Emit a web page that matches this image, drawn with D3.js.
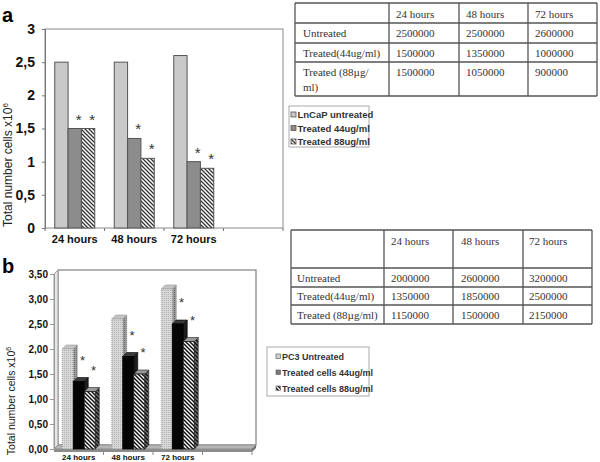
<!DOCTYPE html>
<html>
<head>
<meta charset="utf-8">
<script src="https://cdn.jsdelivr.net/npm/d3@7"></script>
<style>
html,body{margin:0;padding:0;background:#fff;}
svg{display:block;}
</style>
</head>
<body>
<svg id="chart" width="600" height="462"></svg>
<script>
// ---------- DATA ----------
const categories = ["24 hours", "48 hours", "72 hours"];
const lncapUntreated = [2.5, 2.5, 2.6];
const lncapTreated44 = [1.5, 1.35, 1.0];
const lncapTreated88 = [1.5, 1.05, 0.9];
const pc3Untreated = [2.0, 2.6, 3.2];
const pc3Treated44 = [1.35, 1.85, 2.5];
const pc3Treated88 = [1.15, 1.5, 2.15];
const yTicksA = [0, 0.5, 1, 1.5, 2, 2.5, 3];
const yTicksB = [0, 0.5, 1, 1.5, 2, 2.5, 3, 3.5];
const legendA = ["LnCaP untreated", "Treated 44ug/ml", "Treated 88ug/ml"];
const legendB = ["PC3 Untreated", "Treated cells 44ug/ml", "Treated cells 88ug/ml"];
const tableRowsA = [["Untreated"], ["Treated(44ug/ml)"], ["Treated (88\u00b5g/", "ml)"]];
const tableRowsB = [["Untreated"], ["Treated(44ug/ml)"], ["Treated (88\u00b5g/ml)"]];
const yTitle = "Total number cells x10";

// ---------- SETUP ----------
const svg = d3.select("#chart");
const defs = svg.append("defs");
function hatch(id, bg, fg, sw) {
  const p = defs.append("pattern").attr("id", id).attr("patternUnits", "userSpaceOnUse")
    .attr("width", 4).attr("height", 4);
  p.append("rect").attr("width", 4).attr("height", 4).attr("fill", bg);
  p.append("path").attr("d", "M-1,-1 L5,5 M3,-1 L5,1 M-1,3 L1,5")
    .attr("stroke", fg).attr("stroke-width", sw);
}
hatch("hatchA", "#fff", "#333", 1.3);
hatch("hatchB", "#fff", "#111", 1.5);
hatch("hatchBside", "#777", "#111", 1.5);
const dots = defs.append("pattern").attr("id", "dotsB").attr("patternUnits", "userSpaceOnUse")
  .attr("width", 2).attr("height", 2);
dots.append("rect").attr("width", 2).attr("height", 2).attr("fill", "#d6d6d6");
dots.append("rect").attr("width", 1).attr("height", 1).attr("fill", "#b8b8b8");
const dotsSide = defs.append("pattern").attr("id", "dotsBside").attr("patternUnits", "userSpaceOnUse")
  .attr("width", 2).attr("height", 2);
dotsSide.append("rect").attr("width", 2).attr("height", 2).attr("fill", "#9a9a9a");
dotsSide.append("rect").attr("width", 1).attr("height", 1).attr("fill", "#6a6a6a");

const xDomain = [...categories, ""];
const fmtA = d => String(d).replace(".", ",");
const fmtB = d => d3.format(".2f")(d).replace(".", ",");

// ---------- PANEL A ----------
const gA = svg.append("g");
gA.append("text").attr("x", 2).attr("y", 22).attr("font-family", "Arial, Liberation Sans")
  .attr("font-weight", "bold").attr("font-size", 20).text("a");

const xa = d3.scaleBand().domain(xDomain).range([45, 283]);
const ya = d3.scaleLinear().domain([0, 3]).range([228, 29]);
const seriesA = [lncapUntreated, lncapTreated44, lncapTreated88];
const fillsA = ["#c9c9c9", "#8c8c8c", "url(#hatchA)"];
const xsa = d3.scaleBand().domain([0, 1, 2]).range([0, xa.bandwidth()]).paddingOuter(0.73);

gA.append("rect").attr("x", xa.range()[0]).attr("y", ya(3)).attr("width", xa.range()[1] - xa.range()[0])
  .attr("height", ya(0) - ya(3)).attr("fill", "none").attr("stroke", "#8a8a8a").attr("stroke-width", 1);

const axA = gA.append("g").attr("transform", `translate(${xa.range()[0]},0)`)
  .call(d3.axisLeft(ya).tickValues(yTicksA).tickFormat(fmtA).tickSize(3).tickPadding(7));
axA.select(".domain").attr("stroke", "#777");
axA.selectAll(".tick line").attr("stroke", "#777");
axA.selectAll("text").attr("font-family", "Arial, Liberation Sans").attr("font-weight", "bold")
  .attr("font-size", 14).attr("fill", "#111");

// x ticks at band boundaries
gA.selectAll(".xt").data(xDomain.map(d => xa(d)).concat([xa.range()[1]])).enter().append("line")
  .attr("x1", d => d).attr("x2", d => d).attr("y1", ya(0)).attr("y2", ya(0) + 3).attr("stroke", "#777");
gA.selectAll(".xl").data(categories).enter().append("text")
  .attr("x", d => xa(d) + xa.bandwidth() / 2).attr("y", 243).attr("text-anchor", "middle")
  .attr("font-family", "Arial, Liberation Sans").attr("font-weight", "bold").attr("font-size", 11)
  .attr("fill", "#111").text(d => d);

seriesA.forEach((s, si) => {
  gA.selectAll(".ba" + si).data(s).enter().append("rect")
    .attr("x", (d, i) => xa(categories[i]) + xsa(si)).attr("y", d => ya(d))
    .attr("width", xsa.bandwidth()).attr("height", d => ya(0) - ya(d))
    .attr("fill", fillsA[si]).attr("stroke", "#555").attr("stroke-width", 1);
  if (si > 0) {
    gA.selectAll(".sa" + si).data(s).enter().append("text")
      .attr("x", (d, i) => xa(categories[i]) + xsa(si) + xsa.bandwidth() * 0.8)
      .attr("y", d => ya(d) - 4).attr("text-anchor", "middle")
      .attr("font-family", "Arial, Liberation Sans").attr("font-size", 15).attr("fill", "#333").text("*");
  }
});

// y title A
const tA = gA.append("text").attr("transform", "translate(12,165) rotate(-90)").attr("text-anchor", "middle")
  .attr("font-family", "Arial, Liberation Sans").attr("font-size", 12).attr("fill", "#222");
tA.append("tspan").text(yTitle);
tA.append("tspan").attr("dy", -4).attr("font-size", 8).text("6");

// legend A
const lgA = gA.append("g");
lgA.append("rect").attr("x", 289).attr("y", 106).attr("width", 80).attr("height", 41)
  .attr("fill", "#fff").attr("stroke", "#aaa");
legendA.forEach((t, i) => {
  lgA.append("rect").attr("x", 291).attr("y", 112 + i * 13.5).attr("width", 5).attr("height", 5)
    .attr("fill", fillsA[i]).attr("stroke", "#555").attr("stroke-width", 0.8);
  lgA.append("text").attr("x", 297.5).attr("y", 118 + i * 13.5).attr("font-family", "Arial, Liberation Sans")
    .attr("font-weight", "bold").attr("font-size", 9.5).attr("fill", "#333").text(t);
});

// table A
function drawTable(g, cols, rows, header, rowLabels, vals, opt) {
  const L = cols[0], R = cols[cols.length - 1], T = rows[0], B = rows[rows.length - 1];
  rows.forEach(y => g.append("line").attr("x1", L).attr("x2", R).attr("y1", y).attr("y2", y)
    .attr("stroke", "#555").attr("stroke-width", 1.3));
  cols.forEach(x => g.append("line").attr("x1", x).attr("x2", x).attr("y1", T).attr("y2", B)
    .attr("stroke", "#555").attr("stroke-width", 1.3));
  const txt = (x, y, s) => g.append("text").attr("x", x).attr("y", y)
    .attr("font-family", "Liberation Serif, Times New Roman, serif").attr("font-size", 11)
    .attr("fill", "#333").text(s);
  header.forEach((h, j) => txt(cols[j + 1] + opt.pad[j], opt.headY, h));
  rowLabels.forEach((lab, i) => {
    lab.forEach((line, k) => txt(cols[0] + opt.labPad, opt.rowY[i] + k * 15, line));
    vals.forEach((v, j) => txt(cols[j + 1] + opt.pad[j], opt.rowY[i], String(Math.round(v[i] * 1e6))));
  });
}
const seriesAT = categories.map((c, j) => seriesA.map(s => s[j]));
drawTable(gA, [295, 389, 459, 528, 597], [3, 23, 43, 62, 96], categories, tableRowsA, seriesAT,
  {pad: [7, 7, 7], headY: 18, labPad: 8, rowY: [37, 57, 76]});

// ---------- PANEL B ----------
const gB = svg.append("g");
gB.append("text").attr("x", 2).attr("y", 273).attr("font-family", "Arial, Liberation Sans")
  .attr("font-weight", "bold").attr("font-size", 20).text("b");

const xb = d3.scaleBand().domain(xDomain).range([54, 252]);
const yb = d3.scaleLinear().domain([0, 3.5]).range([449, 274]);
const dx = 4, dy = 4;
const [bx0, bx1] = xb.range();
const by0 = yb(0), byT = yb(3.5);

// back wall and left wall
gB.append("rect").attr("x", bx0 + dx).attr("y", byT - dy).attr("width", bx1 - bx0).attr("height", by0 - byT)
  .attr("fill", "#fff").attr("stroke", "#9a9a9a").attr("stroke-width", 1.5);
gB.append("polygon").attr("points", `${bx0},${byT} ${bx0 + dx},${byT - dy} ${bx0 + dx},${by0 - dy} ${bx0},${by0}`)
  .attr("fill", "#e6e6e6").attr("stroke", "#9a9a9a").attr("stroke-width", 1);
// floor
gB.append("polygon").attr("points", `${bx0},${by0} ${bx1},${by0} ${bx1 + dx},${by0 - dy} ${bx0 + dx},${by0 - dy}`)
  .attr("fill", "#b5b5b5").attr("stroke", "#888").attr("stroke-width", 0.8);
gB.append("rect").attr("x", bx0).attr("y", by0).attr("width", bx1 - bx0).attr("height", 3)
  .attr("fill", "#8d8d8d");
gB.append("polygon").attr("points", `${bx1},${by0} ${bx1 + dx},${by0 - dy} ${bx1 + dx},${by0 - dy + 3} ${bx1},${by0 + 3}`)
  .attr("fill", "#6f6f6f");

const axB = gB.append("g").attr("transform", `translate(${bx0},0)`)
  .call(d3.axisLeft(yb).tickValues(yTicksB).tickFormat(fmtB).tickSize(4).tickPadding(2));
axB.select(".domain").attr("stroke", "#999");
axB.selectAll(".tick line").attr("stroke", "#999");
axB.selectAll("text").attr("font-family", "Arial, Liberation Sans").attr("font-weight", "bold")
  .attr("font-size", 10).attr("fill", "#111");

gB.selectAll(".xtb").data(xDomain.slice(1).map(d => xb(d)).concat([xb.range()[1]])).enter().append("line")
  .attr("x1", d => d).attr("x2", d => d).attr("y1", by0 + 3).attr("y2", by0 + 6).attr("stroke", "#888");
gB.selectAll(".xlb").data(categories).enter().append("text")
  .attr("x", d => xb(d) + xb.bandwidth() / 2).attr("y", 460).attr("text-anchor", "middle")
  .attr("font-family", "Arial, Liberation Sans").attr("font-weight", "bold").attr("font-size", 8)
  .attr("fill", "#111").text(d => d);

const seriesB = [pc3Untreated, pc3Treated44, pc3Treated88];
const frontB = ["url(#dotsB)", "#050505", "url(#hatchB)"];
const sideB = ["url(#dotsBside)", "#1e1e1e", "url(#hatchBside)"];
const topB = ["#c4c4c4", "#3a3a3a", "#9a9a9a"];
const strokeB = ["#999", "#000", "#222"];
const xsb = d3.scaleBand().domain([0, 1, 2]).range([0, xb.bandwidth()]).paddingOuter(0.75);

categories.forEach((c, i) => {
  seriesB.forEach((s, si) => {
    const x = xb(c) + xsb(si), w = xsb.bandwidth(), yt = yb(s[i]);
    const g = gB.append("g");
    g.append("polygon").attr("points", `${x + w},${yt} ${x + w + dx},${yt - dy} ${x + w + dx},${by0 - dy} ${x + w},${by0}`)
      .attr("fill", sideB[si]).attr("stroke", strokeB[si]).attr("stroke-width", 0.6);
    g.append("polygon").attr("points", `${x},${yt} ${x + dx},${yt - dy} ${x + w + dx},${yt - dy} ${x + w},${yt}`)
      .attr("fill", topB[si]).attr("stroke", strokeB[si]).attr("stroke-width", 0.6);
    g.append("rect").attr("x", x).attr("y", yt).attr("width", w).attr("height", by0 - yt)
      .attr("fill", frontB[si]).attr("stroke", strokeB[si]).attr("stroke-width", 0.8)
      .attr("stroke-dasharray", si === 0 ? "1,1" : null);
  });
});
seriesB.forEach((s, si) => {
  if (si === 0) return;
  gB.selectAll(".sb" + si).data(s).enter().append("text")
    .attr("x", (d, i) => xb(categories[i]) + xsb(si) + xsb.bandwidth() * 0.85)
    .attr("y", d => yb(d) - 17).attr("text-anchor", "middle")
    .attr("font-family", "Arial, Liberation Sans").attr("font-size", 13).attr("fill", "#333").text("*");
});

const tB = gB.append("text").attr("transform", "translate(15,401) rotate(-90)").attr("text-anchor", "middle")
  .attr("font-family", "Arial, Liberation Sans").attr("font-size", 10.5).attr("fill", "#222");
tB.append("tspan").text(yTitle);
tB.append("tspan").attr("dy", -4).attr("font-size", 7).text("6");

// legend B
const lgB = gB.append("g");
lgB.append("rect").attr("x", 267).attr("y", 347).attr("width", 102).attr("height", 49)
  .attr("fill", "#fff").attr("stroke", "#aaa");
const swB = ["#d0d0d0", "#777", "url(#hatchB)"];
legendB.forEach((t, i) => {
  lgB.append("rect").attr("x", 276).attr("y", 354 + i * 16).attr("width", 4.5).attr("height", 4.5)
    .attr("fill", swB[i]).attr("stroke", "#666").attr("stroke-width", 0.7);
  lgB.append("text").attr("x", 282).attr("y", 360 + i * 16).attr("font-family", "Arial, Liberation Sans")
    .attr("font-weight", "bold").attr("font-size", 9).attr("fill", "#333").text(t);
});

const seriesBT = categories.map((c, j) => seriesB.map(s => s[j]));
drawTable(gB, [291, 384, 453, 523, 592], [230, 268, 287, 305, 324], categories, tableRowsB, seriesBT,
  {pad: [7, 8, 6], headY: 245, labPad: 6, rowY: [282, 300, 319]});
</script>
</body>
</html>
